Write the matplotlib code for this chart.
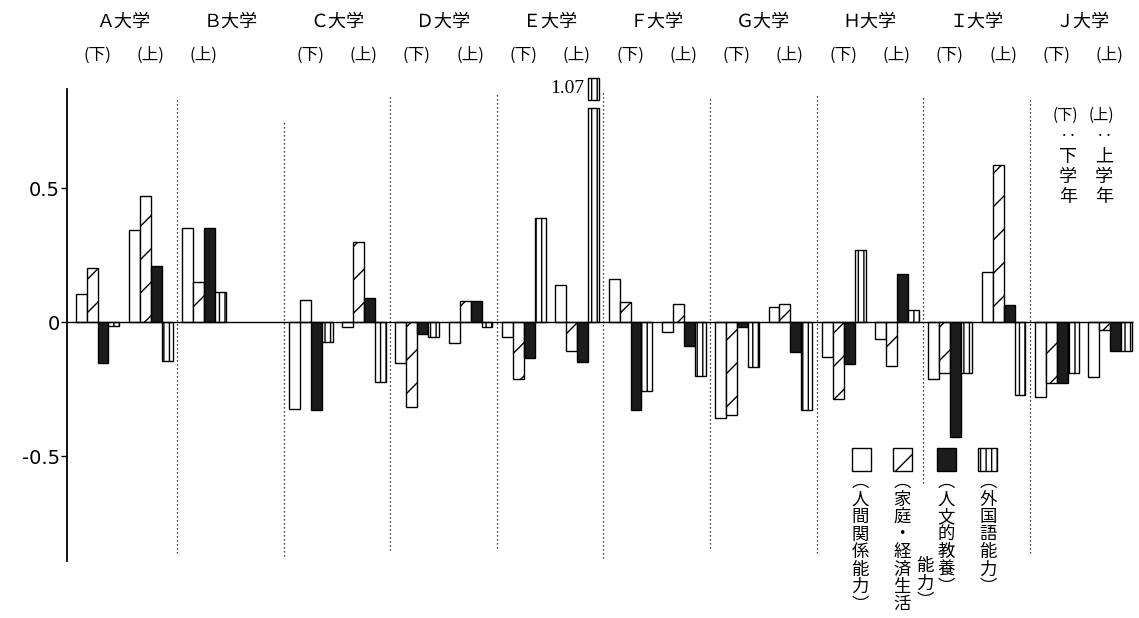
import numpy as np
import matplotlib
matplotlib.use('Agg')
import matplotlib.pyplot as plt
from matplotlib.patches import Rectangle
from matplotlib.transforms import blended_transform_factory

plt.rcParams['font.family'] = ['Noto Sans CJK JP', 'DejaVu Sans']
plt.rcParams['hatch.linewidth'] = 1.0

# 大学ごとの学年 (B大学は上学年のみ)
universities = ['Ａ大学', 'Ｂ大学', 'Ｃ大学', 'Ｄ大学', 'Ｅ大学',
                'Ｆ大学', 'Ｇ大学', 'Ｈ大学', 'Ｉ大学', 'Ｊ大学']
grades = [['下', '上'], ['上'], ['下', '上'], ['下', '上'], ['下', '上'],
          ['下', '上'], ['下', '上'], ['下', '上'], ['下', '上'], ['下', '上']]

# A下, A上, B上, C下, C上, ... J下, J上
human = [0.104, 0.344, 0.353, -0.323, -0.019, -0.153, -0.076, -0.056, 0.138, 0.160,
         -0.036, -0.355, 0.058, -0.128, -0.061, -0.210, 0.186, -0.280, -0.203]
family = [0.204, 0.472, 0.151, 0.084, 0.300, -0.315, 0.079, -0.210, -0.108, 0.077,
          0.069, -0.345, 0.069, -0.286, -0.163, -0.188, 0.586, -0.227, -0.029]
culture = [-0.153, 0.211, 0.353, -0.326, 0.089, -0.044, 0.079, -0.134, -0.148, -0.327,
           -0.087, -0.016, -0.110, -0.157, 0.179, -0.429, 0.065, -0.227, -0.107]
foreign = [-0.013, -0.143, 0.112, -0.075, -0.224, -0.056, -0.016, 0.390, 1.07, -0.256,
           -0.199, -0.165, -0.327, 0.269, 0.046, -0.188, -0.271, -0.188, -0.107]

series = [human, family, culture, foreign]
styles = [dict(facecolor='white', hatch=None),
          dict(facecolor='white', hatch='/'),
          dict(facecolor='#1c1c1c', hatch=None),
          dict(facecolor='white', hatch='|||')]
legend_texts = [['︵人間関係能力︶'], ['︵家庭・経済生活', '能力︶'],
                ['︵人文的教養︶'], ['︵外国語能力︶']]

W, H = 1139, 618
fig = plt.figure(figsize=(W / 100, H / 100), dpi=100)
ax = fig.add_axes([67 / W, 0, (W - 67) / W, 1])
ax.set_xlim(-0.163, 19.95)
ax.set_ylim(-1.102, 1.201)

# slot positions
slots = []
for k, g in enumerate(grades):
    for i in range(len(g)):
        slots.append(2 * k + i)
slots = np.array(slots, dtype=float)

bw = 0.205
cut = 0.80
for j, vals in enumerate(series):
    vals = np.array(vals)
    shown = np.minimum(vals, cut)
    ax.bar(slots + bw * j, shown, width=bw, align='edge', edgecolor='black',
           linewidth=1.0, **styles[j])
    big = vals > cut
    if big.any():
        ax.bar(slots[big] + bw * j, 0.08, bottom=0.83, width=bw, align='edge',
               edgecolor='black', linewidth=1.0, clip_on=False, **styles[j])
        for x, v in zip(slots[big], vals[big]):
            ax.text(x + bw * j - 0.08, 0.87, f'{v:.2f}', ha='right', va='center',
                    fontsize=14, family='Liberation Serif')

# zero line
ax.hlines(0, -0.163, 19.84, color='black', linewidth=1.0)

# dividers between universities
div_top = [0.84, 0.75, 0.85, 0.86, 0.86, 0.84, 0.85, 0.84, 0.84]
div_bot = [-0.86, -0.87, -0.85, -0.84, -0.88, -0.84, -0.86, -0.60, -0.86]
for k in range(1, len(universities)):
    ax.vlines(2 * k - 0.1, div_bot[k - 1], div_top[k - 1], color='black',
              linewidth=0.9, linestyles=(0, (1, 2.2)))

# axis
for s in ['top', 'right', 'bottom']:
    ax.spines[s].set_visible(False)
ax.spines['left'].set_bounds(-0.89, 0.87)
ax.spines['left'].set_linewidth(1.3)
ax.set_xticks([])
ax.set_yticks([-0.5, 0, 0.5])
ax.set_yticklabels(['-0.5', '0', '0.5'], fontsize=14, family='DejaVu Sans')
ax.tick_params(axis='y', direction='out', length=4, width=1, pad=1)

# university and grade labels
tr = blended_transform_factory(ax.transData, fig.transFigure)
for k, (name, g) in enumerate(zip(universities, grades)):
    ax.text(2 * k + 0.9, 1 - 22 / H, name, transform=tr, ha='center',
            va='center', fontsize=13)
    for i, gr in enumerate(g):
        ax.text(2 * k + i + 0.4, 1 - 55 / H, f'({gr})', transform=tr,
                ha='center', va='center', fontsize=12)


def ftext(px, py, s, **kw):
    fig.text(px / W, 1 - py / H, s, ha='center', va='center', **kw)


def vtext(px, py, s, step=20, **kw):
    for n, ch in enumerate(s):
        ftext(px, py + n * step, ch, **kw)


# note (下)(上)
for px, g in [(1065, '下'), (1101, '上')]:
    ftext(px, 115, f'({g})', fontsize=11)
    ftext(px + 3, 137, '‥', fontsize=12)
    vtext(px + 3, 157, f'{g}学年', fontsize=13)

# legend
box_x = [852, 893, 937, 978]
col_x = [[860], [902, 925], [946], [988]]
col_y = [[482], [482, 566], [482], [482]]
for j in range(4):
    fig.add_artist(Rectangle((box_x[j] / W, 1 - 471 / H), 19 / W, 23 / H,
                             transform=fig.transFigure, edgecolor='black',
                             linewidth=1.0, **styles[j]))
    for cx, cy, s in zip(col_x[j], col_y[j], legend_texts[j]):
        vtext(cx, cy, s, step=17.5, fontsize=12.5)

fig.savefig('out.png', dpi=100)
